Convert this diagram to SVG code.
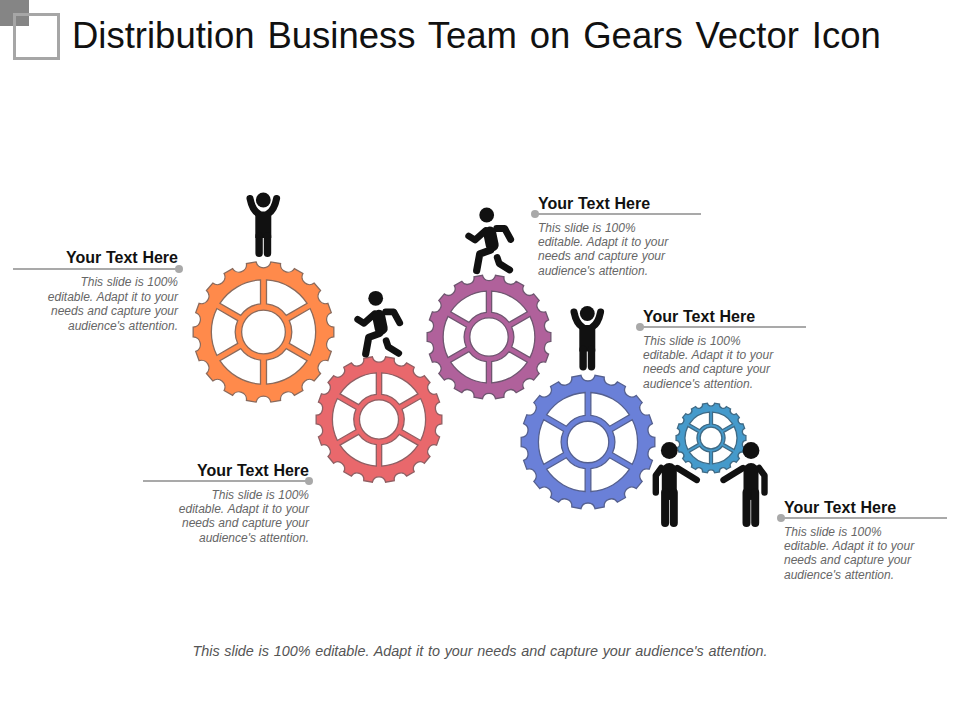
<svg xmlns="http://www.w3.org/2000/svg" xmlns:xlink="http://www.w3.org/1999/xlink" width="960" height="720" viewBox="0 0 960 720">
<style>
text{font-family:"Liberation Sans",Arial,sans-serif}
.title{font-size:36.5px;fill:#111;word-spacing:2.7px}
.h{font-size:16px;font-weight:700;fill:#111;word-spacing:.3px}
.b{font-size:12px;font-style:italic;fill:#666;word-spacing:.3px}
.foot{font-size:14.4px;font-style:italic;fill:#555;word-spacing:.7px}
.end{text-anchor:end}
.lead{stroke:#a9a9a9;stroke-width:2;fill:none}
.dot{fill:#a9a9a9}
.gearpath{stroke-width:1.3;vector-effect:non-scaling-stroke;fill-rule:evenodd}
.limb{fill:none;stroke:#111;stroke-linecap:round;stroke-linejoin:round}
.fig{fill:#111}
</style>
<defs>
<path id="gearShape" class="gearpath" d="M99.76,-6.98L99.76,6.98A10.7,10.7 0 0 0 96.13,27.56L91.35,40.67A10.7,10.7 0 0 0 80.9,58.78L71.93,69.47A10.7,10.7 0 0 0 55.92,82.9L43.84,89.88A10.7,10.7 0 0 0 24.19,97.03L10.45,99.45A10.7,10.7 0 0 0 -10.45,99.45L-24.19,97.03A10.7,10.7 0 0 0 -43.84,89.88L-55.92,82.9A10.7,10.7 0 0 0 -71.93,69.47L-80.9,58.78A10.7,10.7 0 0 0 -91.35,40.67L-96.13,27.56A10.7,10.7 0 0 0 -99.76,6.98L-99.76,-6.98A10.7,10.7 0 0 0 -96.13,-27.56L-91.35,-40.67A10.7,10.7 0 0 0 -80.9,-58.78L-71.93,-69.47A10.7,10.7 0 0 0 -55.92,-82.9L-43.84,-89.88A10.7,10.7 0 0 0 -24.19,-97.03L-10.45,-99.45A10.7,10.7 0 0 0 10.45,-99.45L24.19,-97.03A10.7,10.7 0 0 0 43.84,-89.88L55.92,-82.9A10.7,10.7 0 0 0 71.93,-69.47L80.9,-58.78A10.7,10.7 0 0 0 91.35,-40.67L96.13,-27.56A10.7,10.7 0 0 0 99.76,-6.98Z
M4.25,-73.88A74,74 0 0 1 61.86,-40.62L32.32,-23.57A40,40 0 0 0 4.25,-39.77Z
M66.1,-33.26A74,74 0 0 1 66.1,33.26L36.57,16.2A40,40 0 0 0 36.57,-16.2Z
M61.86,40.62A74,74 0 0 1 4.25,73.88L4.25,39.77A40,40 0 0 0 32.32,23.57Z
M-4.25,73.88A74,74 0 0 1 -61.86,40.62L-32.32,23.57A40,40 0 0 0 -4.25,39.77Z
M-66.1,33.26A74,74 0 0 1 -66.1,-33.26L-36.57,-16.2A40,40 0 0 0 -36.57,16.2Z
M-61.86,-40.62A74,74 0 0 1 -4.25,-73.88L-4.25,-39.77A40,40 0 0 0 -32.32,-23.57Z
M31,0A31,31 0 1 0 -31,0A31,31 0 1 0 31,0Z"/>
<g id="cheer">
<circle r="7.4"/>
<path class="limb" stroke-width="7" d="M-13.3,-1.5Q-11,10 -5,13.5M13.3,-1.5Q11,10 5,13.5"/>
<path d="M-8,11.5H8V38H-8Z"/>
<path class="limb" stroke-width="7.4" d="M-4.2,36V53.3M4.2,36V53.3"/>
</g>
<g id="runner">
<circle r="7.4"/>
<path class="limb" stroke-width="6.8" d="M-1,15.5L-11.7,25L-18,21M10,13.5H18L24,24.5"/>
<path class="limb" stroke-width="13" d="M3,18L5.5,30"/>
<path class="limb" stroke-width="7.2" d="M4,35L-7,39L-10,55.5"/>
<path class="limb" stroke-width="6.8" d="M10.5,42.5L12.5,48.5L23,55"/>
</g>
<g id="stander">
<circle r="8.4"/>
<path class="limb" stroke-width="6.4" d="M-8,17.5L-13.5,25V42M8,17.5L27.5,29.5"/>
<path class="limb" stroke-width="15" d="M0,20V42"/>
<path class="limb" stroke-width="8" d="M-4.2,42V72.5M4.5,42V72.5"/>
</g>
</defs>

<g id="logo">
<rect x="0" y="0" width="29" height="26" fill="#858585"/>
<rect x="14.5" y="14.5" width="44" height="44" fill="none" stroke="#a6a6a6" stroke-width="3"/>
</g>
<text id="title" class="title" x="72" y="48">Distribution Business Team on Gears Vector Icon</text>

<g id="gear-orange"><use xlink:href="#gearShape" href="#gearShape" transform="translate(263.5,332) scale(.705)" fill="#FF8A4B" stroke="#8a6a5c"/></g>
<g id="gear-red"><use xlink:href="#gearShape" href="#gearShape" transform="translate(379,419.5) scale(.63)" fill="#E9686C" stroke="#8f5f63"/></g>
<g id="gear-purple"><use xlink:href="#gearShape" href="#gearShape" transform="translate(489,337) scale(.62)" fill="#B0619B" stroke="#6f5670"/></g>
<g id="gear-blue"><use xlink:href="#gearShape" href="#gearShape" transform="translate(588,442) scale(.67)" fill="#6A80D8" stroke="#55608f"/></g>
<g id="gear-small"><use xlink:href="#gearShape" href="#gearShape" transform="translate(711,438) scale(.35)" fill="#459ACB" stroke="#3f6a85"/></g>

<g id="person-1" class="fig"><use xlink:href="#cheer" href="#cheer" x="263.3" y="200"/></g>
<g id="person-2" class="fig"><use xlink:href="#runner" href="#runner" x="375.7" y="298.3"/></g>
<g id="person-3" class="fig"><use xlink:href="#runner" href="#runner" x="486.7" y="215"/></g>
<g id="person-4" class="fig"><use xlink:href="#cheer" href="#cheer" x="587.3" y="313.5"/></g>
<g id="person-5" class="fig"><use xlink:href="#stander" href="#stander" x="669.3" y="450.5"/></g>
<g id="person-6" class="fig"><use xlink:href="#stander" href="#stander" transform="translate(751,450.5) scale(-1,1)"/></g>

<g id="connectors">
<path class="lead" d="M13,269H179"/>
<path class="lead" d="M535,214H701"/>
<path class="lead" d="M640,327H806"/>
<path class="lead" d="M143,481H309"/>
<path class="lead" d="M781,518H947"/>
</g>

<g id="label-1">
<circle class="dot" cx="179" cy="269" r="4"/>
<text class="h end" x="178" y="263">Your Text Here</text>
<text class="b end" x="178" y="286">This slide is 100%</text>
<text class="b end" x="178" y="301">editable. Adapt it to your</text>
<text class="b end" x="178" y="315">needs and capture your</text>
<text class="b end" x="178" y="330">audience's attention.</text>
</g>
<g id="label-2">
<circle class="dot" cx="535" cy="214" r="4"/>
<text class="h" x="538" y="209">Your Text Here</text>
<text class="b" x="538" y="232">This slide is 100%</text>
<text class="b" x="538" y="246">editable. Adapt it to your</text>
<text class="b" x="538" y="260">needs and capture your</text>
<text class="b" x="538" y="275">audience's attention.</text>
</g>
<g id="label-3">
<circle class="dot" cx="640" cy="327" r="4"/>
<text class="h" x="643" y="322">Your Text Here</text>
<text class="b" x="643" y="345">This slide is 100%</text>
<text class="b" x="643" y="359">editable. Adapt it to your</text>
<text class="b" x="643" y="373">needs and capture your</text>
<text class="b" x="643" y="388">audience's attention.</text>
</g>
<g id="label-4">
<circle class="dot" cx="309" cy="481" r="4"/>
<text class="h end" x="309" y="476">Your Text Here</text>
<text class="b end" x="309" y="499">This slide is 100%</text>
<text class="b end" x="309" y="513">editable. Adapt it to your</text>
<text class="b end" x="309" y="527">needs and capture your</text>
<text class="b end" x="309" y="542">audience's attention.</text>
</g>
<g id="label-5">
<circle class="dot" cx="781" cy="518" r="4"/>
<text class="h" x="784" y="513">Your Text Here</text>
<text class="b" x="784" y="536">This slide is 100%</text>
<text class="b" x="784" y="550">editable. Adapt it to your</text>
<text class="b" x="784" y="564">needs and capture your</text>
<text class="b" x="784" y="579">audience's attention.</text>
</g>
<text id="footer" class="foot" x="480" y="656" text-anchor="middle">This slide is 100% editable. Adapt it to your needs and capture your audience's attention.</text>
</svg>
